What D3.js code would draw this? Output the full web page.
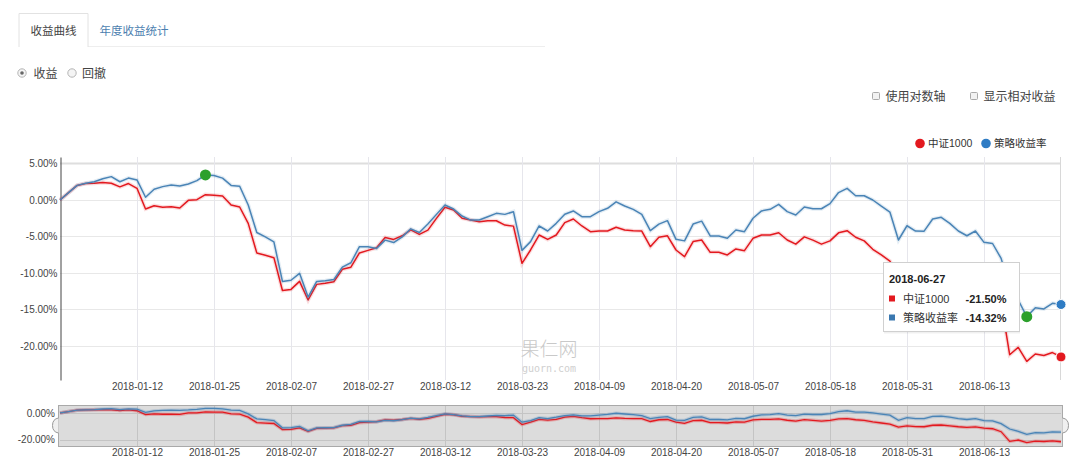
<!DOCTYPE html>
<html><head><meta charset="utf-8">
<script src="https://cdn.jsdelivr.net/npm/d3@7"></script>
<style>
body{margin:0;background:#fff;}
svg{font-family:"Liberation Sans","Noto Sans CJK SC",sans-serif;}
</style></head><body>
<svg id="c" width="1080" height="467"></svg>
<script>
const dates = [
"2017-12-29","2018-01-02","2018-01-03","2018-01-04","2018-01-05","2018-01-08","2018-01-09","2018-01-10","2018-01-11","2018-01-12",
"2018-01-15","2018-01-16","2018-01-17","2018-01-18","2018-01-19","2018-01-22","2018-01-23","2018-01-24","2018-01-25","2018-01-26",
"2018-01-29","2018-01-30","2018-01-31","2018-02-01","2018-02-02","2018-02-05","2018-02-06","2018-02-07","2018-02-08","2018-02-09",
"2018-02-12","2018-02-13","2018-02-14","2018-02-22","2018-02-23","2018-02-26","2018-02-27","2018-02-28","2018-03-01","2018-03-02",
"2018-03-05","2018-03-06","2018-03-07","2018-03-08","2018-03-09","2018-03-12","2018-03-13","2018-03-14","2018-03-15","2018-03-16",
"2018-03-19","2018-03-20","2018-03-21","2018-03-22","2018-03-23","2018-03-26","2018-03-27","2018-03-28","2018-03-29","2018-03-30",
"2018-04-02","2018-04-03","2018-04-04","2018-04-09","2018-04-10","2018-04-11","2018-04-12","2018-04-13","2018-04-16","2018-04-17",
"2018-04-18","2018-04-19","2018-04-20","2018-04-23","2018-04-24","2018-04-25","2018-04-26","2018-04-27","2018-05-02","2018-05-03",
"2018-05-04","2018-05-07","2018-05-08","2018-05-09","2018-05-10","2018-05-11","2018-05-14","2018-05-15","2018-05-16","2018-05-17",
"2018-05-18","2018-05-21","2018-05-22","2018-05-23","2018-05-24","2018-05-25","2018-05-28","2018-05-29","2018-05-30","2018-05-31",
"2018-06-01","2018-06-04","2018-06-05","2018-06-06","2018-06-07","2018-06-08","2018-06-11","2018-06-12","2018-06-13","2018-06-14",
"2018-06-15","2018-06-19","2018-06-20","2018-06-21","2018-06-22","2018-06-25","2018-06-26","2018-06-27"];

const seriesNames = ["中证1000", "策略收益率"];

// 中证1000 cumulative return (%)
const benchmark = [
0,1.0,2.0,2.25,2.3,2.4,2.3,1.8,2.25,1.6,
-1.24,-0.78,-1.0,-0.92,-1.1,-0.05,0.05,0.73,0.64,0.55,
-0.69,-0.96,-3.2,-7.25,-7.57,-7.9,-12.4,-12.25,-11.15,-13.7,
-11.56,-11.4,-11.2,-9.5,-9.2,-7.25,-6.9,-6.55,-5.14,-5.4,
-4.9,-4.1,-4.72,-4.13,-2.52,-1.0,-1.38,-2.5,-2.75,-2.98,
-2.84,-2.84,-3.44,-3.58,-8.68,-6.85,-4.8,-5.4,-4.8,-3.1,
-2.6,-3.56,-4.34,-4.25,-4.25,-3.74,-4.1,-4.2,-4.25,-6.4,
-5.1,-4.9,-6.85,-7.76,-5.7,-5.48,-7.17,-7.17,-7.53,-6.7,
-6.94,-5.25,-4.8,-4.8,-4.48,-5.48,-6.05,-5.05,-5.5,-6.05,
-5.6,-4.5,-4.2,-5.1,-5.6,-6.76,-7.53,-8.36,-10.6,-9.6,
-10.2,-10.3,-9.2,-9.0,-9.6,-10.3,-10.8,-10.4,-11.4,-11.8,
-14.0,-21.2,-20.2,-22.1,-21.1,-21.3,-20.9,-21.5];

// 策略收益率 cumulative return (%)
const strategy = [
0,1.0,2.0,2.3,2.5,2.9,3.2,2.5,3.0,2.75,
0.37,1.47,1.83,2.06,1.93,2.2,2.66,3.44,3.35,3.0,
2.0,1.88,-0.69,-4.45,-5.05,-5.73,-11.15,-11.0,-10.05,-13.3,
-11.15,-11.05,-10.9,-9.2,-8.6,-6.4,-6.4,-6.65,-5.5,-5.83,
-5.05,-3.95,-4.45,-3.3,-1.97,-0.69,-1.24,-2.2,-2.75,-2.75,
-2.3,-1.83,-1.97,-1.6,-6.9,-5.7,-3.56,-4.25,-3.2,-1.96,
-1.5,-2.28,-2.28,-1.6,-1.14,-0.25,-0.82,-1.28,-1.96,-4.2,
-3.3,-2.83,-5.39,-5.6,-3.3,-2.9,-4.93,-4.93,-5.25,-4.1,
-4.34,-2.5,-1.5,-1.28,-0.6,-1.6,-2.05,-0.95,-1.2,-1.2,
-0.5,1.02,1.6,0.58,0.58,0.0,-0.85,-1.65,-5.48,-3.53,
-4.25,-4.27,-2.6,-2.37,-3.2,-4.25,-4.9,-4.25,-5.8,-5.96,
-8.0,-12.0,-13.7,-15.98,-14.75,-14.93,-14.15,-14.32];

const yTicks = [5, 0, -5, -10, -15, -20];
const navYTicks = [0, -20];
const xTickLabels = ["2018-01-12","2018-01-25","2018-02-07","2018-02-27","2018-03-12","2018-03-23",
  "2018-04-09","2018-04-20","2018-05-07","2018-05-18","2018-05-31","2018-06-13"];
const peakDate = "2018-01-24";
const troughDate = "2018-06-21";
const tooltipDate = "2018-06-27";

const RED = "#e3191f", BLUE = "#4a84b6", GREEN = "#2ca02c";
const svg = d3.select("#c");

// ---------- header controls ----------
const hdr = svg.append("g");
hdr.append("line").attr("x1",88).attr("x2",545).attr("y1",46.5).attr("y2",46.5).attr("stroke","#eee");
hdr.append("path").attr("d","M19,47 V13.5 H88 V47").attr("fill","#fff").attr("stroke","#e2e2e2");
hdr.append("text").attr("x",53.5).attr("y",34.5).attr("text-anchor","middle").attr("font-size",11.5).attr("fill","#444").text("收益曲线");
hdr.append("text").attr("x",134).attr("y",34.5).attr("text-anchor","middle").attr("font-size",11.5).attr("fill","#4d7fb0").text("年度收益统计");

hdr.append("circle").attr("cx",22).attr("cy",73).attr("r",4.2).attr("fill","#f4f4f4").attr("stroke","#b5b5b5");
hdr.append("circle").attr("cx",22).attr("cy",73).attr("r",1.8).attr("fill","#666");
hdr.append("text").attr("x",33.5).attr("y",77.5).attr("font-size",12).attr("fill","#444").text("收益");
hdr.append("circle").attr("cx",72).attr("cy",73).attr("r",4.2).attr("fill","#f4f4f4").attr("stroke","#b5b5b5");
hdr.append("text").attr("x",82).attr("y",77.5).attr("font-size",12).attr("fill","#444").text("回撤");

[[872,"使用对数轴"],[970,"显示相对收益"]].forEach(([bx,t])=>{
  hdr.append("rect").attr("x",bx+0.5).attr("y",92.5).attr("width",7).attr("height",7).attr("rx",1)
     .attr("fill","#f2f2f2").attr("stroke","#aaa");
  hdr.append("text").attr("x",bx+13.5).attr("y",100.5).attr("font-size",12).attr("fill","#444").text(t);
});

// legend
const legendColors = [RED, "#2f7cc4"];
const legendX = [920, 986];
seriesNames.forEach((n,i)=>{
  hdr.append("circle").attr("cx",legendX[i]).attr("cy",143.5).attr("r",4.8).attr("fill",legendColors[i]);
  hdr.append("text").attr("x",legendX[i]+8).attr("y",147).attr("font-size",10.5).attr("fill","#333").text(n);
});

// ---------- main chart ----------
const L = 60, R = 1061, T = 157, B = 380;
const x = d3.scalePoint().domain(dates).range([L, R]);
const y = d3.scaleLinear().domain([5.89, -24.66]).range([T, B]);

const g = svg.append("g");
// grid
g.selectAll(".hg").data(yTicks).join("line")
  .attr("x1",L).attr("x2",R).attr("y1",d=>Math.round(y(d))+0.5).attr("y2",d=>Math.round(y(d))+0.5)
  .attr("stroke",d=>d===5?"#dedede":"#e8e8e8").attr("stroke-width",d=>d===5?2:1);
g.selectAll(".vg").data(xTickLabels).join("line")
  .attr("x1",d=>Math.round(x(d))+0.5).attr("x2",d=>Math.round(x(d))+0.5).attr("y1",T).attr("y2",B)
  .attr("stroke","#e6e6ec");
// crosshair at tooltip date
g.append("line").attr("x1",Math.round(x(tooltipDate))-0.5).attr("x2",Math.round(x(tooltipDate))-0.5)
  .attr("y1",T).attr("y2",B).attr("stroke","#d8d8d8");

// watermark
g.append("text").attr("x",549).attr("y",356).attr("text-anchor","middle").attr("font-size",19)
  .attr("font-family","'Noto Sans CJK SC',serif").attr("font-weight",300).attr("fill","#c9c9c9").text("果仁网");
g.append("text").attr("x",549).attr("y",372).attr("text-anchor","middle").attr("font-size",10)
  .attr("font-family","'DejaVu Sans Mono',monospace").attr("fill","#cfcfcf").text("guorn.com");

// y axis
const yAxis = g.append("g").attr("transform",`translate(${L+0.5},0)`)
  .call(d3.axisLeft(y).tickValues(yTicks).tickFormat(d=>d.toFixed(2)+"%").tickSize(0).tickSizeOuter(0).tickPadding(3));
yAxis.select(".domain").attr("stroke","#444");
yAxis.selectAll("text").attr("font-size",10).attr("fill","#444").attr("font-family","'Liberation Sans',Arial,sans-serif");

// x axis
const xAxis = g.append("g").attr("transform",`translate(0,${B})`)
  .call(d3.axisBottom(x).tickValues(xTickLabels).tickSize(0).tickPadding(3));
xAxis.select(".domain").remove();
xAxis.selectAll("text").attr("font-size",10).attr("fill","#444").attr("font-family","'Liberation Sans',Arial,sans-serif");

// lines
const line = d3.line().x((d,i)=>x(dates[i])).y(d=>y(d));
g.append("path").datum(benchmark).attr("d",line).attr("fill","none").attr("stroke",RED).attr("stroke-opacity",0.15).attr("stroke-width",4);
g.append("path").datum(benchmark).attr("d",line).attr("fill","none").attr("stroke",RED).attr("stroke-width",1.5).attr("stroke-linejoin","round");
g.append("path").datum(strategy).attr("d",line).attr("fill","none").attr("stroke",BLUE).attr("stroke-opacity",0.15).attr("stroke-width",4);
g.append("path").datum(strategy).attr("d",line).attr("fill","none").attr("stroke",BLUE).attr("stroke-width",1.5).attr("stroke-linejoin","round");

// max drawdown markers
[peakDate, troughDate].forEach(dt=>{
  const i = dates.indexOf(dt);
  g.append("circle").attr("cx",x(dt)).attr("cy",y(strategy[i])).attr("r",5.5).attr("fill",GREEN);
});
// hover markers at tooltip date
const ti = dates.indexOf(tooltipDate);
[[benchmark,RED],[strategy,"#2f7cc4"]].forEach(([s,c])=>{
  g.append("circle").attr("cx",x(tooltipDate)).attr("cy",y(s[ti])).attr("r",5).attr("fill",c).attr("stroke","#fff").attr("stroke-width",1);
});

// tooltip
const tt = svg.append("g").attr("transform","translate(883,262)");
tt.append("rect").attr("x",1).attr("y",1.5).attr("width",136).attr("height",70).attr("fill","#000").attr("opacity",0.06);
tt.append("rect").attr("x",0.5).attr("y",0.5).attr("width",136).attr("height",69).attr("fill","#fff").attr("stroke","#d0d0d0");
tt.append("text").attr("x",6).attr("y",21).attr("font-size",11).attr("font-weight","bold").attr("fill","#222").text(tooltipDate);
[[benchmark,RED],[strategy,"#3a78b0"]].forEach(([s,c],k)=>{
  const yy = 36 + k*19;
  tt.append("rect").attr("x",6).attr("y",yy-2.5).attr("width",6).attr("height",6).attr("fill",c);
  tt.append("text").attr("x",20).attr("y",yy+4.5).attr("font-size",11).attr("fill","#333").text(seriesNames[k]);
  tt.append("text").attr("x",82.5).attr("y",yy+4.5).attr("font-size",11).attr("font-weight","bold").attr("fill","#222")
    .text(s[ti].toFixed(2)+"%");
});

// ---------- navigator ----------
const NT = 405, NB = 446;
const ny = d3.scaleLinear().domain([5.89, -24.66]).range([NT, NB]);
const nav = svg.append("g");
nav.append("rect").attr("x",L-1.5).attr("y",NT+0.5).attr("width",R-L+3).attr("height",NB-NT).attr("fill","#dcdcdc").attr("stroke","#a9a9a9");
nav.selectAll(".nh").data(navYTicks).join("line")
  .attr("x1",L).attr("x2",R).attr("y1",d=>Math.round(ny(d))+0.5).attr("y2",d=>Math.round(ny(d))+0.5).attr("stroke","#c4c4c4");
nav.selectAll(".nv").data(xTickLabels).join("line")
  .attr("x1",d=>Math.round(x(d))+0.5).attr("x2",d=>Math.round(x(d))+0.5).attr("y1",NT+1).attr("y2",NB).attr("stroke","#c4c4c4");
const nline = d3.line().x((d,i)=>x(dates[i])).y(d=>ny(d));
nav.append("path").datum(benchmark).attr("d",nline).attr("fill","none").attr("stroke",RED).attr("stroke-opacity",0.25).attr("stroke-width",3.5);
nav.append("path").datum(benchmark).attr("d",nline).attr("fill","none").attr("stroke",RED).attr("stroke-width",1.3);
nav.append("path").datum(strategy).attr("d",nline).attr("fill","none").attr("stroke",BLUE).attr("stroke-opacity",0.25).attr("stroke-width",3.5);
nav.append("path").datum(strategy).attr("d",nline).attr("fill","none").attr("stroke",BLUE).attr("stroke-width",1.3);
// handles
[L-1.5, R+1.5].forEach((hx,k)=>{
  const dir = k===0?-1:1;
  nav.append("path").attr("d",`M${hx},418 Q${hx+dir*6},419 ${hx+dir*6},425.5 Q${hx+dir*6},432 ${hx},433`)
    .attr("fill","#f0f0f0").attr("stroke","#999");
});
const nyAxis = nav.append("g").attr("transform",`translate(${L-2},0)`)
  .call(d3.axisLeft(ny).tickValues(navYTicks).tickFormat(d=>d.toFixed(2)+"%").tickSize(0).tickPadding(3));
nyAxis.select(".domain").remove();
nyAxis.selectAll("text").attr("font-size",10).attr("fill","#444").attr("font-family","'Liberation Sans',Arial,sans-serif");
const nxAxis = nav.append("g").attr("transform",`translate(0,${NB})`)
  .call(d3.axisBottom(x).tickValues(xTickLabels).tickSize(0).tickPadding(3));
nxAxis.select(".domain").remove();
nxAxis.selectAll("text").attr("font-size",10).attr("fill","#444").attr("font-family","'Liberation Sans',Arial,sans-serif");
</script>
</body></html>
